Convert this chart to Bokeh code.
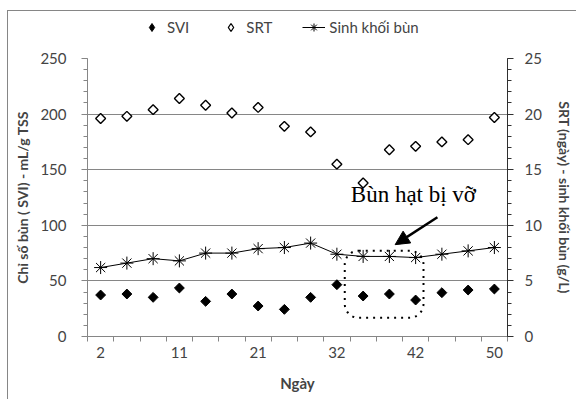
import math
from bokeh.plotting import figure
from bokeh.layouts import column
from bokeh.models import (LinearAxis, Range1d, FixedTicker, BoxAnnotation, Arrow,
                          NormalHead, Label, Legend, LegendItem, ColumnDataSource)
from bokeh.embed import file_html
from bokeh.resources import INLINE

# ---- data ----
days = [2, 5, 8, 11, 14, 18, 21, 25, 28, 32, 35, 39, 42, 45, 48, 50]
svi = [37.3, 38.2, 35.2, 43.6, 31.6, 38.2, 27.4, 24.4, 35.2, 46.6, 36.4, 38.2, 32.8, 39.4, 41.8, 42.7]
srt = [19.6, 19.8, 20.4, 21.4, 20.8, 20.1, 20.6, 18.9, 18.4, 15.5, 13.8, 16.8, 17.1, 17.5, 17.7, 19.7]
biomass = [6.2, 6.6, 7.0, 6.8, 7.5, 7.5, 7.9, 8.0, 8.4, 7.4, 7.2, 7.2, 7.1, 7.4, 7.7, 8.0]
shown_day_labels = [2, 11, 21, 32, 42, 50]
left_ticks = [0, 50, 100, 150, 200, 250]
right_ticks = [0, 5, 10, 15, 20, 25]

pos = list(range(1, len(days) + 1))
src = ColumnDataSource(dict(x=pos, svi=svi, srt=srt, bio=biomass))

FONT = "Lato"
GRAY = "#868686"

p = figure(width=568, height=356, output_backend="svg", toolbar_location=None,
           x_range=Range1d(0.5, len(days) + 0.5), y_range=Range1d(0, 250),
           min_border_left=79, min_border_right=69, min_border_top=15, min_border_bottom=63)
p.extra_y_ranges = {"right": Range1d(0, 25)}
p.outline_line_color = None
p.xgrid.grid_line_color = None
p.ygrid.ticker = FixedTicker(ticks=left_ticks)
p.ygrid.grid_line_color = GRAY

# x axis
xax = p.xaxis[0]
xax.ticker = FixedTicker(ticks=[pos[days.index(d)] for d in shown_day_labels],
                         minor_ticks=[i + 0.5 for i in range(len(days) + 1)])
xax.major_label_overrides = {pos[days.index(d)]: str(d) for d in shown_day_labels}
xax.major_tick_line_color = None
xax.minor_tick_out = 5
xax.minor_tick_in = 0
xax.minor_tick_line_color = GRAY
xax.axis_line_color = GRAY
xax.axis_label = "Ngày"
xax.axis_label_text_font = FONT
xax.axis_label_text_font_style = "bold"
xax.axis_label_text_font_size = "15px"
xax.axis_label_standoff = 13
xax.major_label_text_font = FONT
xax.major_label_text_font_size = "15px"
xax.major_label_standoff = 4

# left y axis
yax = p.yaxis[0]
yax.ticker = FixedTicker(ticks=left_ticks, minor_ticks=list(range(0, 251, 10)))
yax.axis_line_color = GRAY
yax.major_tick_line_color = GRAY
yax.minor_tick_line_color = GRAY
yax.major_tick_out = 6
yax.major_tick_in = 0
yax.minor_tick_out = 4
yax.minor_tick_in = 0
yax.axis_label = "Chỉ số bùn ( SVI) - mL/g TSS"
yax.axis_label_text_font = FONT
yax.axis_label_text_font_style = "bold"
yax.axis_label_text_font_size = "14px"
yax.axis_label_standoff = 6
yax.major_label_text_font = FONT
yax.major_label_text_font_size = "15px"
yax.major_label_standoff = 15

# right y axis
rax = LinearAxis(y_range_name="right",
                 ticker=FixedTicker(ticks=right_ticks, minor_ticks=list(range(0, 26))))
rax.axis_line_color = "#303030"
rax.major_tick_line_color = "#303030"
rax.minor_tick_line_color = "#303030"
rax.major_tick_out = 6
rax.major_tick_in = 0
rax.minor_tick_out = 4
rax.minor_tick_in = 0
rax.axis_label = "SRT (ngày) - sinh khối bùn (g/L)"
rax.axis_label_text_font = FONT
rax.axis_label_text_font_style = "bold"
rax.axis_label_text_font_size = "14px"
rax.axis_label_standoff = 11
rax.major_label_text_font = FONT
rax.major_label_text_font_size = "15px"
rax.major_label_standoff = 11
p.add_layout(rax, "right")

# glyphs
r_bio_line = p.line("x", "bio", source=src, y_range_name="right", line_color="black", line_width=1)
r_bio_pts = p.scatter("x", "bio", source=src, y_range_name="right", marker="asterisk",
                      size=13, line_color="black", line_width=1)
r_svi = p.scatter("x", "svi", source=src, marker="square", angle=math.pi / 4, size=7,
                  fill_color="black", line_color="black")
r_srt = p.scatter("x", "srt", source=src, y_range_name="right", marker="square",
                  angle=math.pi / 4, size=7, fill_color="white", line_color="black", line_width=1.4)

# annotations
p.add_layout(BoxAnnotation(left=10.3, right=13.3, bottom=16.8, top=77.2, fill_alpha=0,
                           line_color="black", line_alpha=1, line_width=2, line_dash="2 5",
                           border_radius=14))
p.add_layout(Arrow(end=NormalHead(size=14, fill_color="black", line_color="black"),
                   x_start=13.83, y_start=107.2, x_end=12.22, y_end=82.6,
                   line_color="black", line_width=2.5))
p.add_layout(Label(x=10.53, y=116.8, text="Bùn hạt bị vỡ", text_font="Liberation Serif",
                   text_font_size="23px", text_color="black"))

# legend strip above the plot
lg = figure(width=568, height=32, output_backend="svg", toolbar_location=None,
            x_axis_type=None, y_axis_type=None, x_range=Range1d(0, 1), y_range=Range1d(1000, 1001),
            min_border_left=0, min_border_right=0, min_border_top=0, min_border_bottom=0)
lg.outline_line_color = None
lg.grid.visible = False
l_svi = lg.scatter("x", "svi", source=src, marker="diamond", size=10,
                   fill_color="black", line_color="black")
l_srt = lg.scatter("x", "srt", source=src, marker="diamond", size=10,
                   fill_color="white", line_color="black", line_width=1.3)
l_bio_line = lg.line("x", "bio", source=src, line_color="black", line_width=1)
l_bio_pts = lg.scatter("x", "bio", source=src, marker="asterisk", size=13,
                       line_color="black", line_width=1)
legend = Legend(items=[LegendItem(label="SVI", renderers=[l_svi]),
                       LegendItem(label="SRT", renderers=[l_srt]),
                       LegendItem(label="Sinh khối bùn", renderers=[l_bio_line, l_bio_pts])],
                orientation="horizontal", location=(53, 6), border_line_color=None,
                background_fill_alpha=0, label_text_font=FONT, label_text_font_size="15px",
                glyph_width=23, glyph_height=20, spacing=30, label_standoff=4,
                padding=0, margin=0)
lg.add_layout(legend, "center")

layout = column(lg, p, margin=(10, 0, 0, 7),
                styles={"border-left": "1px solid #868686", "border-top": "1px solid #868686"})

open("out.html", "w").write(file_html(layout, INLINE))
